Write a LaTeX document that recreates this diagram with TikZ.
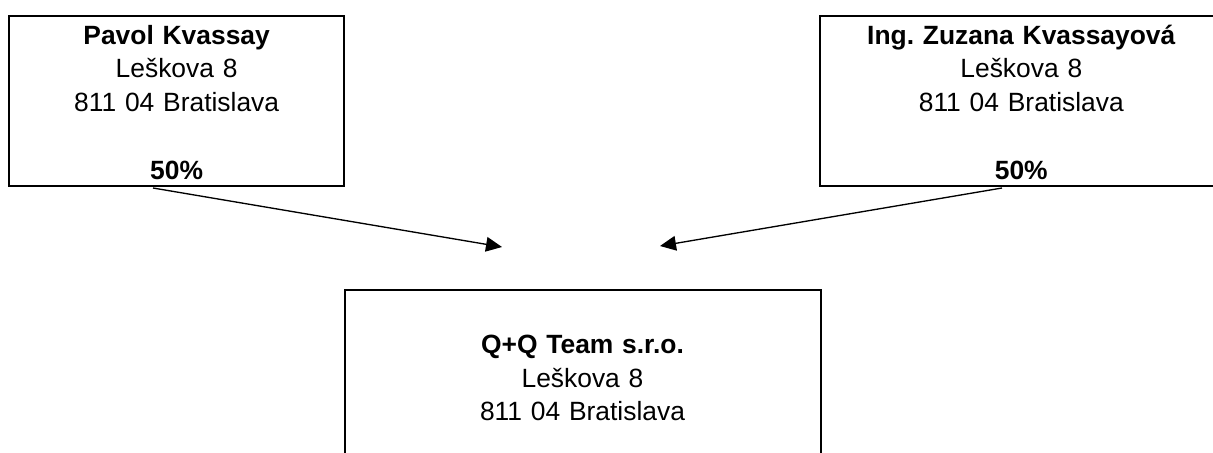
\documentclass[tikz,border=0pt]{standalone}
\usepackage{fontspec}
\setmainfont{Liberation Sans}
\usetikzlibrary{arrows.meta}
\frenchspacing

\begin{document}
\begin{tikzpicture}[x=0.75pt, y=-0.75pt,
    owner/.style ={rectangle, draw, line width=1.5pt, inner sep=0pt, align=center,
      font=\fontsize{19.8pt}{25.3pt}\selectfont, anchor=north west},
    share/.style ={line width=1pt, -{Triangle[length=12pt, width=11pt]}}]
   \useasboundingbox (0,0) rectangle (1213,453);
   \clip (0,0) rectangle (1213,453);
   \node[owner, text width=251pt, text height=21.2pt, text depth=106.3pt] (P) at (8.3,15)
     {\textbf{Pavol Kvassay}\\Leškova 8\\811 04 Bratislava\\[25.3pt]\textbf{50\%}};
   \node[owner, text width=301.5pt, text height=21.2pt, text depth=106.3pt] (Z) at (819.3,15)
     {\textbf{Ing. Zuzana Kvassayová}\\Leškova 8\\811 04 Bratislava\\[25.3pt]\textbf{50\%}};
   \node[owner, text width=357pt, text height=48pt, text depth=96pt] (Q) at (343.5,288.5)
     {\textbf{Q+Q Team s.r.o.}\\Leškova 8\\811 04 Bratislava};
   \coordinate (Pout) at (153,188);
   \coordinate (Zout) at (1002,188);
   \coordinate (QinP) at (502,247);
   \coordinate (QinZ) at (660,246);
   \draw[share] (Pout) to (QinP);
   \draw[share] (Zout) to (QinZ);
 \end{tikzpicture}
\end{document}
